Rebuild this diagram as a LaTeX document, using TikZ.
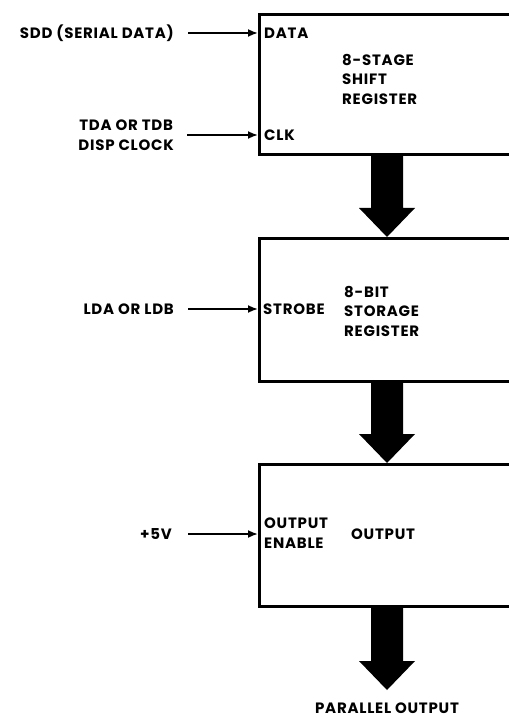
\documentclass[tikz,border=0pt]{standalone}
\usepackage{fontspec}
\setmainfont[LetterSpace=5]{Poppins}
\usetikzlibrary{arrows.meta, calc}

\tikzset{
	regbox/.style={draw, line width=2.6pt, rectangle, minimum width=280pt, anchor=north west, inner sep=0pt},
	lbl/.style={inner sep=0pt, align=left, font=\fontsize{15}{19.5}\selectfont\bfseries},
	sig/.style={line width=1.8pt, -{Latex[length=10pt,width=8pt]}}
}
\newcommand\busarrow[2]{%
	\fill ($(#1)+(-16,0)$) -- ($(#2)+(-16,-29)$) -- ($(#2)+(-28,-29)$) -- (#2)
		-- ($(#2)+(28,-29)$) -- ($(#2)+(16,-29)$) -- ($(#1)+(16,0)$) -- cycle;}

\begin{document}
\begin{tikzpicture}[x=1pt,y=-1pt]
			\useasboundingbox (0,0) rectangle (508,719);
			% register blocks
			\node[regbox, minimum height=140pt] (shift) at (258,13) {};
			\node[regbox, minimum height=143pt] (store) at (258,237) {};
			\node[regbox, minimum height=142pt] (outp) at (258,463) {};
			% texts inside
			\node[lbl, anchor=west] (data) at (264,33) {DATA};
			\node[lbl, anchor=west] (clk) at (264,135) {CLK};
			\node[lbl, anchor=west] (shtxt) at (342,79) {8-STAGE\\SHIFT\\REGISTER};
			\node[lbl, anchor=west] (strobe) at (263,309) {STROBE};
			\node[lbl, anchor=west] (sttxt) at (344,311) {8-BIT\\STORAGE\\REGISTER};
			\node[lbl, anchor=west] (oe) at (264,533) {OUTPUT\\ENABLE};
			\node[lbl, anchor=west] (outtxt) at (351,534) {OUTPUT};
			% inputs
			\node[lbl, anchor=east] (sdd) at (174,33) {SDD (SERIAL DATA)};
			\node[lbl, anchor=east, align=center] (tda) at (174,135) {TDA OR TDB\\DISP CLOCK};
			\node[lbl, anchor=east] (lda) at (174,309) {LDA OR LDB};
			\node[lbl, anchor=east] (vcc) at (172,534) {+5V};
			\draw[sig] ([xshift=14pt]sdd.east) -- (sdd -| shift.west);
			\draw[sig] ([xshift=13pt]tda.east) -- (tda -| shift.west);
			\draw[sig] ([xshift=14pt]lda.east) -- (lda -| store.west);
			\draw[sig] ([xshift=16pt]vcc.east) -- (vcc -| outp.west);
			% bus arrows
			\coordinate (mid) at (387,0);
			\node[lbl] (par) at (387,708) {PARALLEL OUTPUT};
			\coordinate (a1) at (shift.south -| mid);
			\coordinate (b1) at (store.north -| mid);
			\coordinate (a2) at (store.south -| mid);
			\coordinate (b2) at (outp.north -| mid);
			\coordinate (a3) at (outp.south -| mid);
			\coordinate (b3) at ([yshift=18pt]par.center);
			\busarrow{a1}{b1}
			\busarrow{a2}{b2}
			\busarrow{a3}{b3}
		\end{tikzpicture}
\end{document}
